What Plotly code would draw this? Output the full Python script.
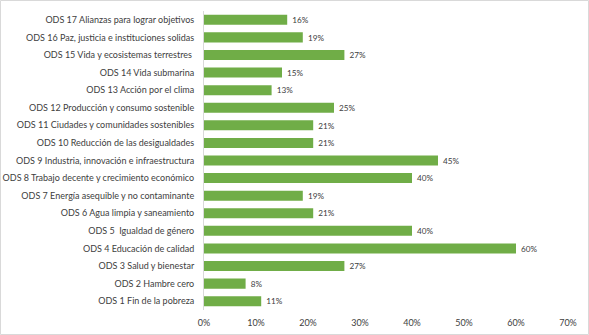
import plotly.graph_objects as go

categories = [
    "ODS 1 Fin de la pobreza",
    "ODS 2 Hambre cero",
    "ODS 3 Salud y bienestar",
    "ODS 4 Educación de calidad",
    "ODS 5  Igualdad de género",
    "ODS 6 Agua limpia y saneamiento",
    "ODS 7 Energía asequible y no contaminante",
    "ODS 8 Trabajo decente y crecimiento económico",
    "ODS 9 Industria, innovación e infraestructura",
    "ODS 10 Reducción de las desigualdades",
    "ODS 11 Ciudades y comunidades sostenibles",
    "ODS 12 Producción y consumo sostenible",
    "ODS 13 Acción por el clima",
    "ODS 14 Vida submarina",
    "ODS 15 Vida y ecosistemas terrestres ",
    "ODS 16 Paz, justicia e instituciones solidas",
    "ODS 17 Alianzas para lograr objetivos",
]
values = [11, 8, 27, 60, 40, 21, 19, 40, 45, 21, 21, 25, 13, 15, 27, 19, 16]
tick_vals = [0, 10, 20, 30, 40, 50, 60, 70]
tick_text = ["0%", "10%", "20%", "30%", "40%", "50%", "60%", "70%"]

W, H = 589, 335
ML, MR, MT, MB = 204, 21, 11, 25
pw, ph = W - ML - MR, H - MT - MB

FONT = "Lato, 'Open Sans', sans-serif"
TXT = "#404040"

fig = go.Figure(go.Bar(
    x=values, y=categories, orientation="h",
    marker=dict(color="#70AD47", line=dict(width=0)),
    width=0.57,
    text=[f" {v}%" for v in values], textposition="outside",
    textfont=dict(family=FONT, size=9, color=TXT),
    cliponaxis=False,
))

fig.update_layout(
    width=W, height=H,
    margin=dict(l=ML, r=MR, t=MT, b=MB, autoexpand=False),
    paper_bgcolor="white", plot_bgcolor="white",
    showlegend=False,
    font=dict(family=FONT, size=9, color=TXT),
    xaxis=dict(range=[0, 70], tickvals=tick_vals, ticktext=tick_text,
               showgrid=False, zeroline=False, showline=False, ticks="",
               automargin=False,
               tickfont=dict(family=FONT, size=9, color=TXT), ticklabelstandoff=6),
    yaxis=dict(categoryorder="array", categoryarray=categories,
               showgrid=False, zeroline=False, showline=True, linecolor="#D9D9D9", linewidth=1,
               ticks="", ticklabelstandoff=7, automargin=False,
               tickfont=dict(family=FONT, size=9, color=TXT)),
    shapes=[dict(type="rect", xref="paper", yref="paper",
                 x0=(-ML + 0.5) / pw, x1=(pw + MR - 0.5) / pw,
                 y0=(-MB + 0.5) / ph, y1=(ph + MT - 0.5) / ph,
                 line=dict(color="#D9D9D9", width=1), fillcolor="rgba(0,0,0,0)")],
)

fig.write_html("out.html", config={"displayModeBar": False},
               post_script="document.body.style.margin='0';document.body.style.overflow='hidden';")
